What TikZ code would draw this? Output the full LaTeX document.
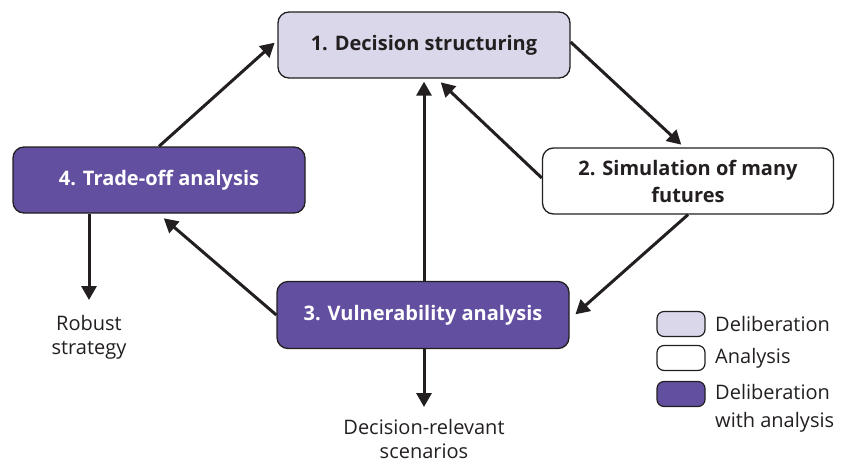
\documentclass[tikz,border=0pt]{standalone}
\usepackage{fontspec}
\setmainfont{Open Sans}
\usetikzlibrary{arrows.meta}
\definecolor{delib}{HTML}{DAD7EA}
\definecolor{both}{HTML}{634FA0}
\definecolor{ink}{HTML}{231F20}
\begin{document}
\begin{tikzpicture}[x=1pt,y=-1pt,
  stagebox/.style={draw=ink,line width=1.3pt,rounded corners=11pt,
    minimum width=292pt,minimum height=66pt,align=center,inner sep=0pt,
    font=\fontsize{20}{27}\selectfont\bfseries,text=ink},
  keybox/.style={draw=ink,line width=1.2pt,rounded corners=7pt,
    minimum width=48pt,minimum height=25pt,inner sep=0pt},
  keytext/.style={anchor=west,align=left,inner sep=0pt,text=ink,
    font=\fontsize{20}{28}\selectfont},
  outtext/.style={align=center,inner sep=0pt,text=ink,
    font=\fontsize{20}{24}\selectfont},
  flow/.style={draw=ink,line width=3pt,
    -{Triangle[length=14pt,width=15pt]},shorten >=1pt}]
\useasboundingbox (0,0) rectangle (843,464);

% process stages
\node[stagebox,fill=delib] (b1) at (424,45) {1. Decision structuring};
\node[stagebox,fill=white,minimum width=291pt] (b2) at (688,181) {2. Simulation of many\\futures};
\node[stagebox,fill=both,text=white,minimum height=67pt] (b3) at (423,315) {3. Vulnerability analysis};
\node[stagebox,fill=both,text=white] (b4) at (159,180) {4. Trade-off analysis};

% outputs
\node[outtext,anchor=north] (rob) at (89,315) {Robust\\strategy};
\node[outtext,anchor=north] (dec) at (424,419) {Decision-relevant\\scenarios};

% flows between stages
\draw[flow] (b4.north) -- ([xshift=-2pt,yshift=3pt]b1.west);
\draw[flow] ([yshift=3pt]b1.east) -- ([xshift=-6pt,yshift=2pt]b2.north);
\draw[flow] ([yshift=3pt]b2.west) -- ([xshift=16pt,yshift=-3pt]b1.south);
\draw[flow] (b3.north -| b1.south) -- ([yshift=-2pt]b1.south);
\draw[flow] (b2.south) -- ([xshift=5pt]b3.east);
\draw[flow] (b3.west) -- ([xshift=4pt,yshift=-4pt]b4.south);
\draw[flow] (b4.south -| rob.north) -- ([yshift=14pt]rob.north);
\draw[flow] (b3.south -| dec.north) -- ([yshift=11pt]dec.north);

% key
\node[keybox,fill=delib] (k1) at (681,324) {};
\node[keybox,fill=white] (k2) at (681,358) {};
\node[keybox,fill=both] (k3) at (681,394) {};
\node[keytext] (t1) at (715,324) {Deliberation};
\node[keytext] (t2) at (715,358) {Analysis};
\node[keytext,anchor=north west] (t3) at (715,384) {Deliberation\\with analysis};
\end{tikzpicture}
\end{document}
